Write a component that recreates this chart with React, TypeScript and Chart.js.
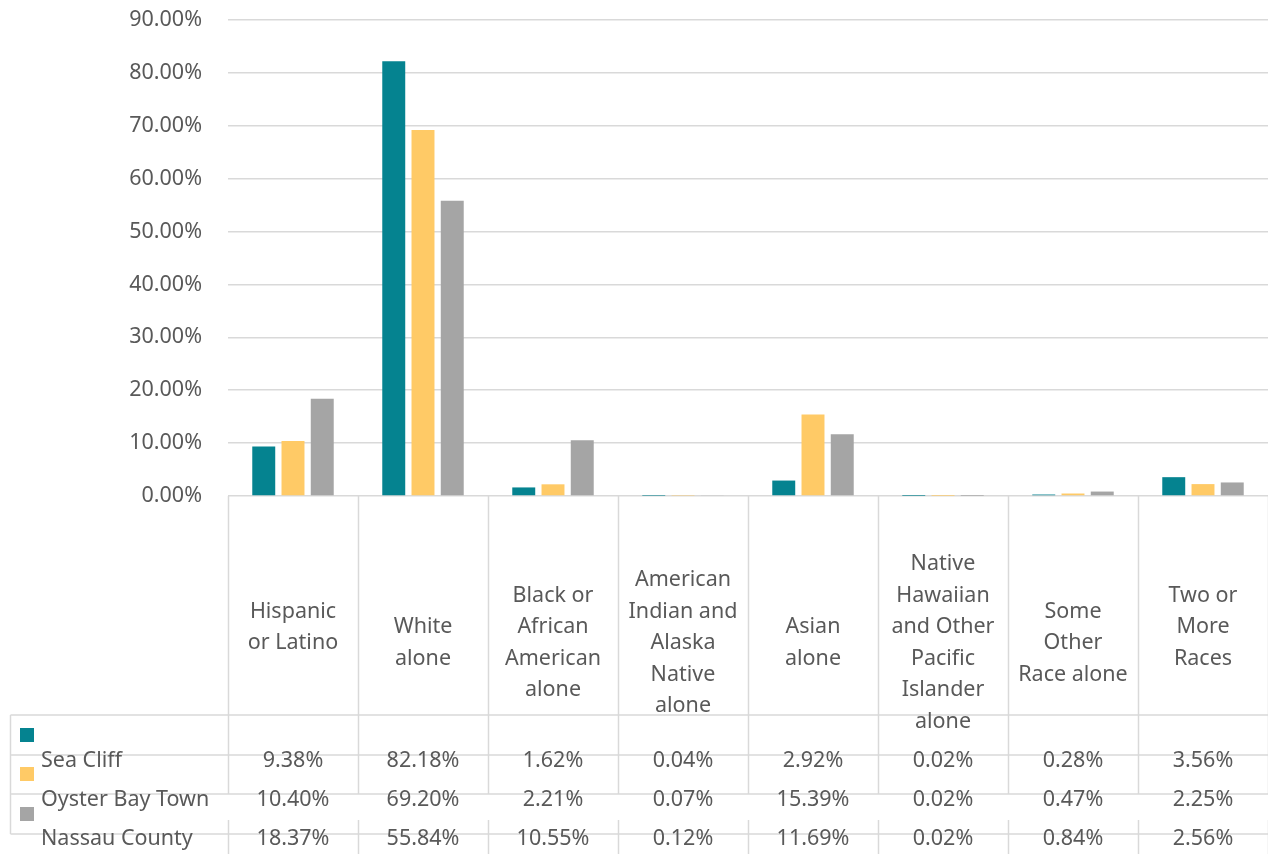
import React, { useEffect, useRef } from "react";
import { Chart, registerables } from "chart.js";

Chart.register(...registerables);

const categories: string[][] = [
  ["Hispanic", "or Latino", ""],
  ["White", "alone"],
  ["Black or", "African", "American", "alone"],
  ["American", "Indian and", "Alaska", "Native", "alone"],
  ["Asian", "alone"],
  ["Native", "Hawaiian", "and Other", "Pacific", "Islander", "alone"],
  ["Some", "Other", "Race alone"],
  ["Two or", "More", "Races", ""],
];

const seriesNames = ["Sea Cliff", "Oyster Bay Town", "Nassau County"];
const seaCliff = [9.38, 82.18, 1.62, 0.04, 2.92, 0.02, 0.28, 3.56];
const oysterBayTown = [10.4, 69.2, 2.21, 0.07, 15.39, 0.02, 0.47, 2.25];
const nassauCounty = [18.37, 55.84, 10.55, 0.12, 11.69, 0.02, 0.84, 2.56];
const colors = ["#058390", "#FFCA66", "#A5A5A5"];
const yMax = 90;
const yStep = 10;

const FONT = '"Noto Sans", "Liberation Sans", sans-serif';
const FS = 21.5;
const TEXT = "#595959";
const GRID = "#D9D9D9";

const tablePlugin = {
  id: "dataTable",
  afterDraw(chart: any) {
    const ctx: CanvasRenderingContext2D = chart.ctx;
    const area = chart.chartArea;
    const xs = chart.scales.x;
    const n = categories.length;
    const colW = (area.right - area.left) / n;
    const top = area.bottom;
    const H = chart.height;
    const series = [seaCliff, oysterBayTown, nassauCounty];
    ctx.save();
    ctx.strokeStyle = GRID;
    ctx.lineWidth = 1.5;
    for (let i = 0; i <= n; i++) {
      const x = Math.round(area.left + i * colW) + 0.5;
      ctx.beginPath();
      ctx.moveTo(x, top);
      ctx.lineTo(x, top + 298);
      ctx.moveTo(x, top + 324);
      ctx.lineTo(x, H);
      ctx.stroke();
    }
    const legendLeft = 10.5;
    [219, 259, 298, 338].forEach((dy) => {
      ctx.beginPath();
      ctx.moveTo(legendLeft, top + dy);
      ctx.lineTo(area.right, top + dy);
      ctx.stroke();
    });
    ctx.beginPath();
    ctx.moveTo(legendLeft, top + 219);
    ctx.lineTo(legendLeft, top + 338);
    ctx.stroke();

    ctx.fillStyle = TEXT;
    ctx.font = `${FS}px ${FONT}`;
    ctx.textAlign = "center";
    ctx.textBaseline = "middle";
    const lh = 31.5;
    categories.forEach((lines, i) => {
      const cx = xs.getPixelForValue(i);
      const startY = top + 147 - ((lines.length - 1) * lh) / 2;
      lines.forEach((t, j) => ctx.fillText(t, cx, startY + j * lh));
    });

    const rowY = [265, 304, 343];
    const keyY = [239, 278, 318];
    series.forEach((vals, r) => {
      ctx.fillStyle = colors[r];
      ctx.fillRect(20, top + keyY[r] - 7, 14, 14);
      ctx.fillStyle = TEXT;
      ctx.textAlign = "left";
      ctx.fillText(seriesNames[r], 41, top + rowY[r]);
      ctx.textAlign = "center";
      vals.forEach((v, i) => {
        ctx.fillText(v.toFixed(2) + "%", xs.getPixelForValue(i), top + rowY[r]);
      });
    });
    ctx.restore();
  },
};

export default function App() {
  const ref = useRef<HTMLCanvasElement | null>(null);
  useEffect(() => {
    document.body.style.margin = "0";
    const chart = new Chart(ref.current as HTMLCanvasElement, {
      type: "bar",
      data: {
        labels: categories.map((c) => c.join(" ").trim()),
        datasets: [seaCliff, oysterBayTown, nassauCounty].map((d, i) => ({
          label: seriesNames[i],
          data: d,
          backgroundColor: colors[i],
          borderWidth: 0,
          categoryPercentage: 0.675,
          barPercentage: 0.785,
        })),
      },
      options: {
        animation: false,
        responsive: false,
        maintainAspectRatio: false,
        layout: { padding: { top: 20, bottom: 358, left: 0, right: 0 } },
        plugins: { legend: { display: false }, tooltip: { enabled: false } },
        scales: {
          x: { display: false },
          y: {
            min: 0,
            max: yMax,
            afterFit: (s: any) => {
              s.width = 228;
              s.paddingTop = 0;
              s.paddingBottom = 0;
            },
            border: { display: false },
            grid: { color: GRID, lineWidth: 1.5, drawTicks: false },
            ticks: {
              stepSize: yStep,
              padding: 26,
              color: TEXT,
              font: { family: FONT, size: FS },
              callback: (v: any) => Number(v).toFixed(2) + "%",
            },
          },
        },
      },
      plugins: [tablePlugin],
    });
    return () => chart.destroy();
  }, []);
  return (
    <div style={{ width: 1268, height: 854, position: "relative" }}>
      <canvas ref={ref} width={1268} height={854} style={{ width: 1268, height: 854 }} />
    </div>
  );
}
